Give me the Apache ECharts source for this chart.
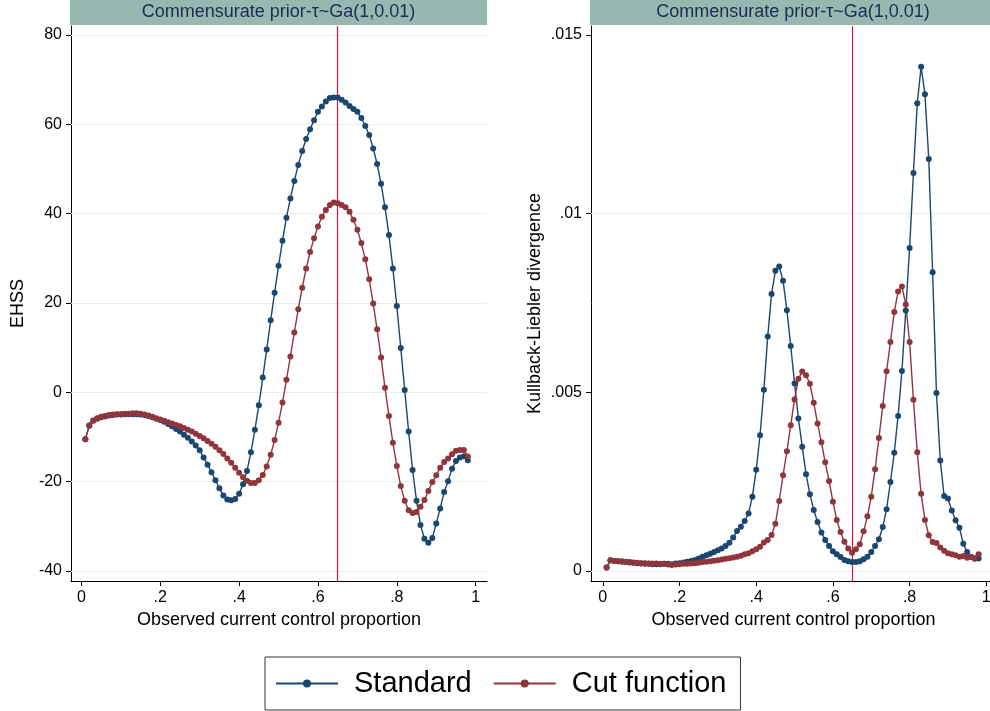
<!DOCTYPE html>
<html>
<head>
<meta charset="utf-8">
<script src="https://cdn.jsdelivr.net/npm/echarts@6/dist/echarts.min.js"></script>
<style>html,body{margin:0;padding:0;background:#fff;}#c{width:990px;height:711px;}</style>
</head>
<body>
<div id="c"></div>
<script>
// Observed current control proportion
var xs = [0.01,0.02,0.03,0.04,0.05,0.06,0.07,0.08,0.09,0.10,
0.11,0.12,0.13,0.14,0.15,0.16,0.17,0.18,0.19,0.20,
0.21,0.22,0.23,0.24,0.25,0.26,0.27,0.28,0.29,0.30,
0.31,0.32,0.33,0.34,0.35,0.36,0.37,0.38,0.39,0.40,
0.41,0.42,0.43,0.44,0.45,0.46,0.47,0.48,0.49,0.50,
0.51,0.52,0.53,0.54,0.55,0.56,0.57,0.58,0.59,0.60,
0.61,0.62,0.63,0.64,0.65,0.66,0.67,0.68,0.69,0.70,
0.71,0.72,0.73,0.74,0.75,0.76,0.77,0.78,0.79,0.80,
0.81,0.82,0.83,0.84,0.85,0.86,0.87,0.88,0.89,0.90,
0.91,0.92,0.93,0.94,0.95,0.96,0.97,0.98];

var ehssStandard = [-10.5,-7.5,-6.4,-5.9,-5.6,-5.4,-5.2,-5.1,-5.0,-5.0,
-4.9,-4.9,-4.9,-4.9,-5.0,-5.1,-5.3,-5.6,-5.9,-6.2,
-6.6,-7.1,-7.6,-8.2,-8.8,-9.5,-10.2,-11.0,-11.9,-13.0,
-14.6,-16.2,-17.9,-19.7,-21.5,-23.1,-24.0,-24.2,-23.9,-22.7,
-20.6,-17.6,-13.4,-8.4,-2.9,3.3,9.6,16.1,22.3,28.3,
33.9,39.1,43.4,47.3,50.9,54.0,56.7,58.9,60.9,62.8,
64.0,65.1,65.9,66.0,66.0,65.5,64.9,64.1,63.4,62.8,
61.4,59.6,57.6,54.6,51.1,46.7,41.4,35.2,27.7,19.3,
9.9,0.5,-8.8,-17.4,-24.3,-29.7,-32.8,-33.7,-32.6,-29.4,
-26.0,-22.3,-19.9,-17.1,-15.4,-14.6,-14.3,-15.2];

var ehssCut = [-10.5,-7.4,-6.3,-5.8,-5.5,-5.3,-5.1,-5.0,-4.9,-4.9,
-4.8,-4.8,-4.7,-4.7,-4.8,-5.0,-5.2,-5.5,-5.8,-6.1,
-6.4,-6.7,-7.0,-7.3,-7.6,-8.0,-8.4,-8.8,-9.3,-9.8,
-10.3,-10.9,-11.5,-12.2,-13.0,-13.8,-14.8,-15.8,-16.9,-18.0,
-19.0,-19.8,-20.3,-20.3,-19.7,-18.5,-16.6,-14.0,-10.7,-6.8,
-2.3,2.8,8.0,13.4,18.6,23.4,27.7,31.4,34.5,37.1,
39.3,40.8,41.9,42.5,42.3,41.9,41.4,40.4,38.6,36.4,
33.4,29.8,25.3,19.9,14.1,7.8,1.0,-5.3,-11.3,-16.5,
-21.0,-24.3,-26.4,-27.0,-26.8,-25.6,-24.1,-22.1,-20.1,-18.6,
-16.9,-15.6,-14.8,-13.9,-13.1,-12.9,-12.9,-14.4];

var klStandard = [0.0001,0.0003,0.00028,0.00027,0.00026,0.00025,0.00024,0.00023,0.00022,0.00021,
0.0002,0.0002,0.00019,0.00019,0.00019,0.0002,0.0002,0.00019,0.00021,0.00022,
0.00024,0.00026,0.00028,0.00031,0.00035,0.0004,0.00044,0.00048,0.00053,0.00058,
0.00063,0.0007,0.00079,0.00094,0.00112,0.00124,0.0014,0.00161,0.00208,0.00283,
0.0038,0.00507,0.00656,0.00775,0.0084,0.00852,0.00812,0.0073,0.0063,0.00525,
0.00427,0.00348,0.00271,0.00215,0.00171,0.00137,0.00108,0.00087,0.0007,0.00055,
0.00047,0.00039,0.00031,0.00027,0.00025,0.00025,0.00027,0.00033,0.0004,0.00053,
0.0007,0.00089,0.00123,0.00173,0.00249,0.00331,0.00434,0.0056,0.00729,0.00904,
0.01114,0.01309,0.01411,0.01334,0.01153,0.00836,0.00498,0.00309,0.0021,0.00203,
0.00169,0.00142,0.00121,0.00076,0.00053,0.00039,0.00036,0.00035];

var klCut = [0.0001,0.0003,0.00028,0.00027,0.00027,0.00026,0.00025,0.00024,0.00023,0.00022,
0.00022,0.00021,0.00021,0.00021,0.0002,0.0002,0.00018,0.00017,0.00018,0.00019,
0.0002,0.0002,0.00021,0.00022,0.00023,0.00025,0.00026,0.00027,0.00029,0.0003,
0.00032,0.00034,0.00036,0.00038,0.0004,0.00043,0.00047,0.0005,0.00055,0.00061,
0.00068,0.0008,0.00087,0.00101,0.00132,0.00196,0.00268,0.00335,0.00408,0.0048,
0.00538,0.00558,0.00548,0.00524,0.00471,0.00413,0.0036,0.00304,0.00252,0.00194,
0.00143,0.00109,0.00082,0.00063,0.00051,0.00061,0.00075,0.00111,0.00153,0.00208,
0.00285,0.00372,0.00462,0.00559,0.00641,0.00725,0.00782,0.00796,0.00746,0.00641,
0.00479,0.00332,0.00216,0.00143,0.001,0.00081,0.00078,0.00066,0.00057,0.0005,
0.00047,0.00044,0.0004,0.00042,0.00037,0.0004,0.00034,0.00047];

var xTicks = [0, 0.2, 0.4, 0.6, 0.8, 1];
var ehssTicks = [-40, -20, 0, 20, 40, 60, 80];
var klTicks = [0, 0.005, 0.01, 0.015];
var refLineX = 0.65;
var panelTitle = 'Commensurate prior-\u03c4~Ga(1,0.01)';
var seriesNames = ['Standard', 'Cut function'];

var BLUE = '#1a476f', RED = '#90353b';
var FONT = '"Liberation Sans", Arial, Helvetica, sans-serif';

function pairs(xv, yv) { return xv.map(function (x, i) { return [x, yv[i]]; }); }
function fmt(v) {
  var s = String(+v.toPrecision(6));
  if (s.indexOf('0.') === 0) s = s.slice(1);
  if (s.indexOf('-0.') === 0) s = '-' + s.slice(2);
  return s;
}

function xAxisCfg(gi, mn, mx) {
  return {
    type: 'value', gridIndex: gi, min: mn, max: mx,
    name: 'Observed current control proportion', nameLocation: 'middle', nameGap: 29,
    nameTextStyle: { fontFamily: FONT, fontSize: 18, color: '#000' },
    axisLine: { show: true, onZero: false, lineStyle: { color: '#000', width: 1 } },
    axisTick: { show: true, length: 5, customValues: xTicks, lineStyle: { color: '#000' } },
    axisLabel: { customValues: xTicks, formatter: fmt, fontFamily: FONT, fontSize: 16, color: '#000', margin: 9, hideOverlap: false },
    splitLine: { show: false }
  };
}
function yAxisCfg(gi, mn, mx, ticks, name, gap) {
  return {
    type: 'value', gridIndex: gi, min: mn, max: mx,
    name: name, nameLocation: 'middle', nameGap: gap, nameRotate: 90,
    nameTextStyle: { fontFamily: FONT, fontSize: 18, color: '#000' },
    axisLine: { show: true, onZero: false, lineStyle: { color: '#000', width: 1 } },
    axisTick: { show: true, length: 5, customValues: ticks, lineStyle: { color: '#000' } },
    axisLabel: { customValues: ticks, formatter: fmt, fontFamily: FONT, fontSize: 16, color: '#000', margin: 9 },
    splitLine: { show: false }
  };
}
function gridSeries(gi, ticks) {
  return {
    type: 'line', name: '_grid' + gi, xAxisIndex: gi, yAxisIndex: gi, data: [], z: 1, silent: true,
    markLine: {
      silent: true, symbol: 'none', animation: false, z: 1,
      label: { show: false },
      emphasis: { disabled: true },
      lineStyle: { color: '#e6eef0', width: 1, type: 'solid' },
      data: ticks.map(function (t) { return { yAxis: t }; })
    }
  };
}
function refSeries(gi) {
  return {
    type: 'line', name: '_ref' + gi, xAxisIndex: gi, yAxisIndex: gi, data: [], z: 2, silent: true,
    markLine: {
      silent: true, symbol: 'none', animation: false, z: 2,
      label: { show: false },
      emphasis: { disabled: true },
      lineStyle: { color: '#e0143f', width: 1.2, type: 'solid' },
      data: [{ xAxis: refLineX }]
    }
  };
}
function dataSeries(gi, name, color, xv, yv) {
  return {
    type: 'line', name: name, xAxisIndex: gi, yAxisIndex: gi, z: 3,
    data: pairs(xv, yv),
    symbol: 'circle', symbolSize: 6, showSymbol: true,
    lineStyle: { color: color, width: 1.4 },
    itemStyle: { color: color },
    emphasis: { disabled: true }
  };
}

var chart = echarts.init(document.getElementById('c'), null, { renderer: 'canvas' });
chart.setOption({
  animation: false,
  backgroundColor: '#fff',
  grid: [
    { left: 71, top: 26, width: 416, height: 555, outerBoundsMode: 'none', containLabel: false },
    { left: 591, top: 26, width: 405, height: 555, outerBoundsMode: 'none', containLabel: false }
  ],
  xAxis: [ xAxisCfg(0, -0.0264, 1.0287), xAxisCfg(1, -0.0308, 1.0253) ],
  yAxis: [
    yAxisCfg(0, -42.25, 82.0, ehssTicks, 'EHSS', 44),
    yAxisCfg(1, -0.00028, 0.015252, klTicks, 'Kullback-Liebler divergence', 47)
  ],
  legend: {
    data: seriesNames,
    left: 265, top: 657,
    orient: 'horizontal',
    padding: [12, 14, 12, 10],
    borderColor: '#333', borderWidth: 1,
    itemWidth: 62, itemHeight: 10, itemGap: 21,
    textStyle: { fontFamily: FONT, fontSize: 29, color: '#000', padding: [0, 0, 0, 11] }
  },
  graphic: [
    { type: 'rect', left: 70, top: 0, shape: { width: 417, height: 25 }, style: { fill: '#96b8b0' }, silent: true },
    { type: 'text', x: 278.5, y: 12.5, style: { text: panelTitle, fill: '#1c2c52', font: '18px ' + FONT, textAlign: 'center', textVerticalAlign: 'middle' }, silent: true },
    { type: 'rect', left: 590, top: 0, shape: { width: 400, height: 25 }, style: { fill: '#96b8b0' }, silent: true },
    { type: 'text', x: 793, y: 12.5, style: { text: panelTitle, fill: '#1c2c52', font: '18px ' + FONT, textAlign: 'center', textVerticalAlign: 'middle' }, silent: true }
  ],
  series: [
    gridSeries(0, ehssTicks), gridSeries(1, klTicks),
    refSeries(0), refSeries(1),
    dataSeries(0, seriesNames[0], BLUE, xs, ehssStandard),
    dataSeries(0, seriesNames[1], RED, xs, ehssCut),
    dataSeries(1, seriesNames[0], BLUE, xs, klStandard),
    dataSeries(1, seriesNames[1], RED, xs, klCut)
  ]
});
</script>
</body>
</html>
